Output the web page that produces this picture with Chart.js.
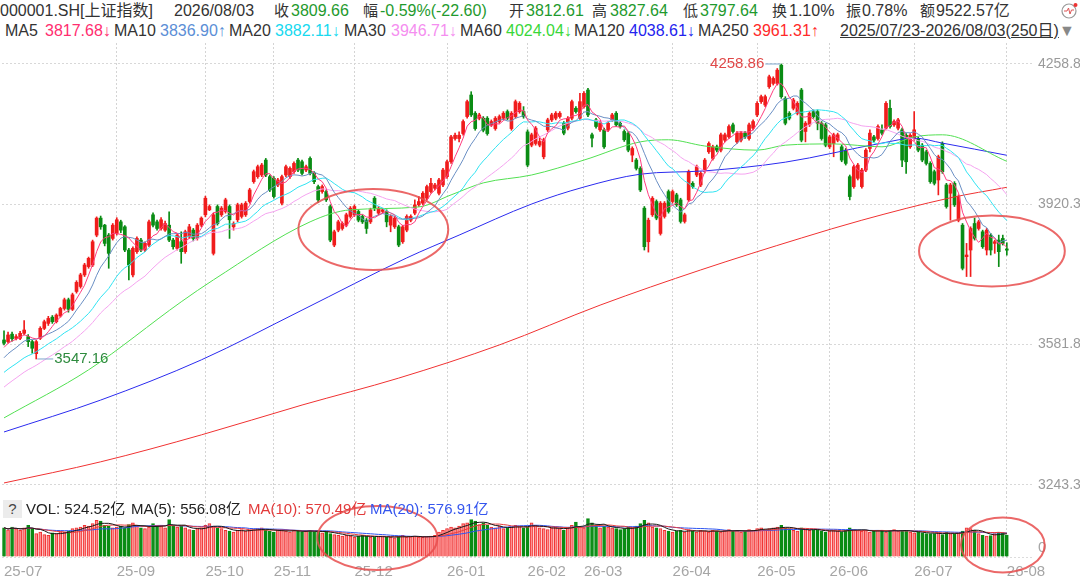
<!DOCTYPE html>
<html>
<head>
<meta charset="utf-8">
<script src="https://cdn.jsdelivr.net/npm/chart.js@4.4.0/dist/chart.umd.min.js"></script>
<style>
  body { margin:0; background:#fff; width:1080px; height:581px; overflow:hidden; position:relative;
         font-family:"Liberation Sans","Noto Sans CJK SC",sans-serif; }
  .h { position:absolute; white-space:nowrap; font-size:16px; line-height:20px; color:#333; z-index:2; }
  .c { font-size:15px; }
  .g { color:#1f9a2e; }
  .v { position:absolute; white-space:nowrap; font-size:15px; line-height:20px; color:#222; z-index:2; }
  #mainBox { position:absolute; left:0; top:43px; width:1080px; height:449px; }
  #volBox { position:absolute; left:0; top:492px; width:1080px; height:89px; }
</style>
</head>
<body>
<!-- header row 1 -->
<span class="h" style="left:0;top:1px">000001.SH[上证指数]</span>
<span class="h" style="left:174px;top:1px">2026/08/03</span>
<span class="h c" style="left:274px;top:1px">收</span><span class="h g" style="left:291px;top:1px">3809.66</span>
<span class="h c" style="left:363px;top:1px">幅</span><span class="h g" style="left:380px;top:1px">-0.59%(-22.60)</span>
<span class="h c" style="left:509px;top:1px">开</span><span class="h g" style="left:526px;top:1px">3812.61</span>
<span class="h c" style="left:592px;top:1px">高</span><span class="h g" style="left:610px;top:1px">3827.64</span>
<span class="h c" style="left:683px;top:1px">低</span><span class="h g" style="left:700px;top:1px">3797.64</span>
<span class="h c" style="left:772px;top:1px">换</span><span class="h" style="left:789px;top:1px">1.10%</span>
<span class="h c" style="left:846px;top:1px">振</span><span class="h" style="left:862px;top:1px">0.78%</span>
<span class="h c" style="left:920px;top:1px">额</span><span class="h" style="left:936px;top:1px">9522.57亿</span>
<svg style="position:absolute;left:1061px;top:2px" width="18" height="18">
  <circle cx="8" cy="9" r="7" fill="none" stroke="#999" stroke-width="1.2"/>
  <polyline points="3,9 6,9 7.5,6 9,12 10.5,8 13,8" fill="none" stroke="#d55" stroke-width="1"/>
  <circle cx="14.5" cy="3" r="2" fill="#e33"/>
</svg>
<!-- header row 2 -->
<span class="h" style="left:5px;top:21px">MA5</span><span class="h" style="left:45px;top:21px;color:#ff2d6f">3817.68↓</span>
<span class="h" style="left:114px;top:21px">MA10</span><span class="h" style="left:160px;top:21px;color:#5b8ed6">3836.90↑</span>
<span class="h" style="left:229px;top:21px">MA20</span><span class="h" style="left:275px;top:21px;color:#17d9ef">3882.11↓</span>
<span class="h" style="left:344px;top:21px">MA30</span><span class="h" style="left:391px;top:21px;color:#f58ef0">3946.71↓</span>
<span class="h" style="left:460px;top:21px">MA60</span><span class="h" style="left:506px;top:21px;color:#39d739">4024.04↓</span>
<span class="h" style="left:574px;top:21px">MA120</span><span class="h" style="left:629px;top:21px;color:#2323ee">4038.61↓</span>
<span class="h" style="left:698px;top:21px">MA250</span><span class="h" style="left:753px;top:21px;color:#ff2a2a">3961.31↑</span>
<span class="h" style="left:840px;top:21px;text-decoration:underline">2025/07/23-2026/08/03(250日)</span>
<span class="h" style="left:1059px;top:21px;color:#888">▼</span>
<!-- volume header -->
<span class="v" style="left:3px;top:500px;width:19px;height:18px;line-height:18px;text-align:center;background:#ececec;color:#444">?</span>
<span class="v" style="left:26px;top:499px">VOL: 524.52亿</span>
<span class="v" style="left:131px;top:499px">MA(5): 556.08亿</span>
<span class="v" style="left:248px;top:499px;color:#e23b3b">MA(10): 570.49亿</span>
<span class="v" style="left:370px;top:499px;color:#3556ee">MA(20): 576.91亿</span>

<div id="mainBox"><canvas id="main"></canvas></div>
<div id="volBox"><canvas id="vol"></canvas></div>

<script>
// ---- data (2025/07/23 - 2026/08/03, 250 trading days) ----
const open = [
  3593,3589,3607,3597,3597,3609,3601,3589,3560,3597,
  3621,3633,3648,3637,3651,3669,3690,3667,3710,3722,
  3750,3770,3774,3846,3887,3870,3846,3838,3850,3878,
  3866,3810,3750,3806,3834,3810,3822,3895,3878,3862,
  3858,3870,3834,3814,3830,3806,3842,3858,3838,3870,
  3895,3907,3802,3915,3895,3903,3915,3866,3883,3891,
  3895,3927,3975,3987,3991,4027,3987,3983,3967,3923,
  3991,3987,3999,4027,4023,4003,4031,3995,3963,3951,
  3951,3915,3822,3858,3862,3870,3891,3895,3903,3891,
  3882,3878,3935,3899,3903,3903,3870,3866,3866,3830,
  3858,3882,3899,3919,3923,3935,3951,3959,3947,3967,
  3987,4023,4079,4079,4091,4132,4184,4140,4128,4128,
  4128,4112,4103,4120,4128,4144,4103,4132,4144,4144,
  4095,4063,4067,4063,4035,4100,4124,4128,4132,4116,
  4104,4128,4152,4128,4156,4196,4088,4124,4100,4100,
  4100,4124,4140,4116,4096,4092,4039,4027,4007,3911,
  3830,3895,3927,3850,3891,3951,3927,3943,3931,3879,
  3931,3971,3991,3967,4000,4047,4031,4059,4051,4075,
  4083,4112,4071,4075,4092,4079,4104,4136,4168,4160,
  4204,4212,4212,4256,4176,4140,4152,4140,4196,4096,
  4112,4144,4144,4116,4112,4059,4067,4075,4059,4051,
  3987,3963,3983,3963,4003,4055,4083,4079,4100,4104,
  4152,4112,4104,4100,4087,4059,4079,4079,4063,4047,
  4019,3999,3979,4067,3967,3947,3971,3882,3870,3794,
  3810,3874,3862,3854,3810,3846,3826,3834,3838,3812.61
];
const high = [
  3615,3612,3612,3606,3614,3640,3606,3592,3592,3625,
  3641,3650,3652,3656,3672,3694,3694,3706,3736,3754,
  3778,3793,3834,3890,3892,3872,3850,3874,3888,3882,
  3869,3814,3818,3842,3838,3830,3882,3900,3882,3888,
  3880,3902,3838,3850,3854,3858,3872,3862,3874,3890,
  3940,3919,3899,3919,3915,3935,3919,3878,3923,3923,
  3927,3959,4003,4015,4019,4031,3991,3987,3983,3991,
  4015,4011,4023,4031,4027,4015,4035,3999,3967,3967,
  3955,3919,3858,3882,3878,3899,3915,3919,3907,3895,
  3886,3911,3939,3915,3911,3907,3895,3891,3870,3870,
  3895,3895,3931,3939,3951,3967,3983,3971,3983,4007,
  4027,4087,4092,4095,4124,4172,4192,4144,4140,4132,
  4132,4124,4132,4136,4144,4148,4144,4172,4168,4156,
  4100,4092,4108,4080,4080,4128,4140,4144,4144,4120,
  4132,4172,4156,4188,4192,4200,4092,4128,4120,4104,
  4120,4140,4144,4120,4100,4096,4059,4031,4011,3915,
  3887,3939,3931,3927,3927,3955,3955,3947,3935,3899,
  4003,3975,4015,3999,4031,4071,4063,4063,4092,4092,
  4112,4116,4096,4096,4096,4116,4124,4168,4184,4184,
  4232,4228,4248,4258.86,4180,4144,4176,4168,4200,4120,
  4144,4148,4148,4120,4116,4087,4092,4092,4063,4055,
  3991,4015,4019,4007,4055,4100,4087,4112,4112,4168,
  4172,4124,4128,4104,4091,4091,4144,4083,4067,4051,
  4023,4003,4039,4071,3971,3971,3975,3943,3874,3826,
  3866,3887,3882,3858,3862,3850,3834,3846,3846,3827.64
];
const low = [
  3581,3585,3590,3593,3594,3605,3577,3561,3547.16,3594,
  3618,3628,3633,3634,3648,3665,3660,3664,3706,3718,
  3746,3766,3770,3842,3860,3820,3766,3834,3846,3852,
  3806,3738,3745,3802,3806,3806,3818,3866,3858,3858,
  3855,3830,3812,3810,3778,3802,3838,3832,3834,3866,
  3890,3905,3798,3870,3891,3899,3838,3858,3878,3887,
  3891,3923,3971,3983,3987,3987,3951,3935,3963,3919,
  3987,3983,3995,3999,3991,3999,3991,3970,3925,3947,
  3927,3830,3818,3854,3858,3866,3887,3891,3878,3874,
  3850,3874,3905,3895,3899,3866,3854,3862,3818,3826,
  3854,3878,3895,3915,3919,3931,3947,3955,3943,3963,
  3983,4019,4075,4071,4087,4128,4132,4099,4124,4095,
  4087,4108,4099,4116,4124,4124,4099,4128,4140,4128,
  4011,4059,4063,4059,4030,4096,4120,4124,4128,4088,
  4100,4124,4140,4124,4152,4132,4059,4104,4096,4055,
  4096,4120,4108,4104,4072,4047,4023,4003,3951,3810,
  3805,3891,3883,3846,3887,3899,3923,3915,3875,3875,
  3927,3959,3987,3963,3996,4043,4027,4047,4047,4071,
  4079,4092,4067,4071,4079,4075,4100,4132,4164,4156,
  4200,4208,4208,4176,4112,4124,4148,4136,4071,4071,
  4108,4128,4100,4075,4059,4055,4035,4071,4023,4015,
  3931,3959,3979,3959,3999,4047,4071,4075,4088,4100,
  4104,4108,4100,4011,3995,4055,4075,4047,4023,4015,
  3971,3967,3943,3995,3911,3882,3915,3878,3762,3746,
  3746,3834,3858,3814,3798,3798,3802,3770,3822,3797.64
];
const close = [
  3585,3605,3596,3601,3609,3617,3589,3573,3589,3621,
  3637,3645,3637,3653,3669,3690,3667,3702,3732,3750,
  3774,3790,3830,3887,3866,3826,3802,3870,3883,3858,
  3810,3774,3814,3838,3810,3826,3878,3870,3862,3883,
  3874,3834,3818,3846,3806,3854,3866,3838,3870,3887,
  3935,3915,3895,3874,3911,3931,3883,3874,3919,3919,
  3923,3955,3999,4011,4015,3991,3955,3939,3979,3987,
  4011,4007,4019,4003,3995,4011,3995,3975,3931,3963,
  3931,3834,3854,3878,3874,3895,3911,3915,3882,3878,
  3862,3907,3911,3911,3907,3878,3891,3887,3822,3866,
  3891,3891,3919,3927,3947,3963,3971,3967,3979,4003,
  4023,4083,4087,4087,4120,4168,4136,4103,4136,4099,
  4091,4120,4128,4132,4140,4128,4140,4168,4164,4132,
  4015,4088,4104,4072,4076,4124,4136,4140,4140,4092,
  4128,4168,4144,4168,4188,4136,4080,4108,4116,4059,
  4116,4136,4112,4108,4076,4051,4055,4007,3955,3818,
  3882,3935,3887,3923,3923,3903,3951,3919,3879,3895,
  3999,3963,4011,3995,4027,4067,4059,4051,4088,4088,
  4108,4096,4092,4092,4083,4112,4120,4164,4180,4180,
  4228,4224,4244,4180,4116,4128,4172,4164,4075,4116,
  4140,4132,4116,4079,4063,4083,4088,4088,4027,4019,
  3939,4011,4015,4003,4051,4092,4075,4108,4092,4164,
  4108,4120,4124,4027,4023,4087,4100,4051,4027,4019,
  3975,3971,4035,3999,3915,3967,3919,3939,3766,3798,
  3862,3838,3878,3818,3858,3810,3830,3806,3826,3809.66
];
// closes of the 29 sessions before the window (only feed the MA5-MA30 lines)
const priorClose = [
  3372,3380,3391,3398,3405,3410,3418,3425,3435,3446,
  3452,3460,3471,3466,3478,3485,3490,3482,3500,3512,
  3508,3520,3531,3527,3540,3555,3568,3580,3587
];
// volume, 亿
const volume = [
  700,650,720,680,640,700,760,690,560,600,
  540,520,580,560,610,590,620,680,700,720,
  760,740,800,880,860,760,740,700,720,740,
  700,780,820,760,700,680,720,800,760,740,
  700,900,760,720,740,700,660,640,680,700,
  760,800,740,700,680,640,620,600,640,660,
  620,640,660,680,700,640,620,600,640,660,
  620,600,640,620,600,620,640,600,620,580,
  620,560,540,520,500,520,500,480,500,520,
  500,480,470,490,500,480,470,460,500,520,
  480,490,500,480,470,490,500,520,600,640,
  680,720,700,740,800,820,900,860,780,820,
  760,720,700,740,680,700,720,760,740,700,
  720,820,760,700,680,660,700,720,680,640,
  700,760,840,720,700,920,820,760,700,740,
  720,700,680,660,680,720,700,740,800,880,
  820,720,700,680,640,620,600,620,640,600,
  660,620,600,640,620,600,640,620,600,640,
  660,620,640,600,620,660,640,680,700,660,
  680,700,720,760,700,680,640,620,700,660,
  640,660,640,620,600,620,640,620,600,640,
  700,660,640,620,640,600,620,640,620,600,
  640,660,620,640,620,600,580,600,580,560,
  560,560,580,540,600,560,560,580,620,700,
  680,640,560,520,500,516,560,600,580,524.52
];
// slower averages at a few sessions
const ma60Days = [0,21,44,52,76,86,103,111,119,131,144,158,165,174,187,194,206,218,226,233,249];
const ma60Vals = [3405,3521,3685,3738,3878,3907,3914,3943,3972,3991,4027,4071,4076,4061,4051,4063,4066,4059,4083,4088,4024.04];
const ma120Days = [0,24,49,74,100,113,131,144,158,174,194,218,226,233,249];
const ma120Vals = [3371,3448,3545,3665,3791,3846,3921,3962,3993,4001,4022,4068,4080,4068,4038.61];
const ma250Days = [0,24,49,74,98,123,148,173,198,213,235,249];
const ma250Vals = [3248,3299,3364,3436,3501,3581,3677,3762,3839,3882,3936,3961.31];

const monthIdx = [0,28,50,67,87,110,130,144,166,187,205,226,249];
const monthLabels = ['25-07','25-09','25-10','25-11','25-12','26-01','26-02','26-03','26-04','26-05','26-06','26-07','26-08'];
const priceTicks = [4258.86, 3920.34, 3581.82, 3243.30];

const N_SLOTS = 256;
const slots = Array.from({length: N_SLOTS}, (_, i) => i);
const up = close.map((c, i) => c >= open[i]);
const RED = '#f01c1c', GREEN = '#0a8c14';
const FONT = '"Liberation Sans","Noto Sans CJK SC",sans-serif';

function movingAvg(src, n, lead) {
  const all = lead.concat(src);
  return src.map((_, i) => {
    const end = i + lead.length + 1;
    const start = Math.max(0, end - n);
    let s = 0;
    for (let k = start; k < end; k++) s += all[k];
    return s / (end - start);
  });
}
function sparse(days, vals) {
  const out = new Array(N_SLOTS).fill(null);
  days.forEach((d, k) => { out[d] = vals[k]; });
  return out;
}
function lineDs(data, color, smooth) {
  return {
    type: 'line', data: data, borderColor: color, borderWidth: 1, pointRadius: 0,
    spanGaps: true, order: 0, tension: 0,
    cubicInterpolationMode: smooth ? 'monotone' : 'default'
  };
}
const gridColor = c => (c.index > 0 && monthIdx.includes(c.index)) ? '#d4d4d4' : 'rgba(0,0,0,0)';
// no extra room for labels sticking out at the ends of an axis
function noPad(s) { s.paddingTop = 0; s.paddingBottom = 0; s.paddingLeft = 0; s.paddingRight = 0; }

function ellipse(chart, cx, cy, rxIdx, ryVal) {
  const {ctx, scales: {x, y}} = chart;
  const px = x.getPixelForValue(cx), py = y.getPixelForValue(cy);
  const rx = x.getPixelForValue(cx + rxIdx) - px;
  const ry = y.getPixelForValue(cy - ryVal) - py;
  ctx.beginPath();
  ctx.ellipse(px, py, rx, ry, 0, 0, Math.PI * 2);
  ctx.stroke();
}

const markPlugin = {
  id: 'marks',
  afterDraw(chart) {
    const {ctx, scales: {x, y}} = chart;
    ctx.save();
    ctx.font = '15px ' + FONT;
    ctx.textBaseline = 'middle';
    ctx.lineWidth = 1;
    // highest point
    const hi = high.indexOf(Math.max(...high));
    let px = x.getPixelForValue(hi), py = y.getPixelForValue(high[hi]);
    ctx.strokeStyle = '#7ea6cc';
    ctx.beginPath(); ctx.moveTo(px - 1, py); ctx.lineTo(px - 16, py); ctx.stroke();
    ctx.fillStyle = '#e04848'; ctx.textAlign = 'right';
    ctx.fillText(high[hi].toFixed(2), px - 17, py);
    // lowest point
    const lo = low.indexOf(Math.min(...low));
    px = x.getPixelForValue(lo); py = y.getPixelForValue(low[lo]);
    ctx.beginPath(); ctx.moveTo(px + 1, py); ctx.lineTo(px + 17, py); ctx.stroke();
    ctx.fillStyle = '#2e8b3e'; ctx.textAlign = 'left';
    ctx.fillText(low[lo].toFixed(2), px + 18, py);
    // hand drawn circles
    ctx.strokeStyle = 'rgba(232,78,78,0.85)';
    ctx.lineWidth = 2;
    ellipse(chart, 91.7, 3859.5, 18.6, 97.7);
    ellipse(chart, 245.3, 3807.7, 18.1, 85.6);
    ctx.restore();
  }
};

new Chart(document.getElementById('main'), {
  data: {
    labels: slots,
    datasets: [
      { type: 'bar', data: low.map((l, i) => [l, high[i]]), backgroundColor: up.map(u => u ? RED : GREEN),
        barThickness: 1, grouped: false, order: 2 },
      { type: 'bar', data: open.map((o, i) => [o, close[i]]), backgroundColor: up.map(u => u ? RED : GREEN),
        barThickness: 3, grouped: false, minBarLength: 1, order: 1 },
      lineDs(movingAvg(close, 5, priorClose), '#ff3d7f', false),
      lineDs(movingAvg(close, 10, priorClose), '#6a8fc4', false),
      lineDs(movingAvg(close, 20, priorClose), '#2fe3f2', false),
      lineDs(movingAvg(close, 30, priorClose), '#f5a3f0', false),
      lineDs(sparse(ma60Days, ma60Vals), '#52e052', true),
      lineDs(sparse(ma120Days, ma120Vals), '#2b2bef', true),
      lineDs(sparse(ma250Days, ma250Vals), '#f03232', true)
    ]
  },
  options: {
    responsive: true, maintainAspectRatio: false, animation: false,
    layout: { padding: { left: 2, right: 0, top: 0, bottom: 0 } },
    plugins: { legend: { display: false }, tooltip: { enabled: false } },
    scales: {
      x: {
        type: 'category', offset: true,
        grid: { offset: false, drawTicks: false, color: gridColor },
        border: { display: false, dash: [2, 2] },
        ticks: { display: false, autoSkip: false },
        afterFit: s => { s.height = 0; noPad(s); }
      },
      y: {
        position: 'right', min: 3226.2, max: 4309.5,
        afterBuildTicks: s => { s.ticks = priceTicks.map(v => ({ value: v })); },
        afterFit: s => { s.width = 47; noPad(s); },
        ticks: { padding: 5, color: '#9a9a9a', font: { size: 14, family: FONT }, callback: v => v.toFixed(2) },
        grid: { drawTicks: false, color: '#d8d8d8' },
        border: { display: false, dash: [2, 2] }
      }
    }
  },
  plugins: [markPlugin]
});

const volMarks = {
  id: 'volMarks',
  afterDraw(chart) {
    const ctx = chart.ctx;
    ctx.save();
    ctx.strokeStyle = 'rgba(232,78,78,0.85)';
    ctx.lineWidth = 2;
    ellipse(chart, 92.7, 456, 14.9, 768);
    ellipse(chart, 248, 288, 10.4, 660);
    ctx.restore();
  }
};

new Chart(document.getElementById('vol'), {
  data: {
    labels: slots,
    datasets: [
      { type: 'bar', data: volume,
        backgroundColor: up.map(u => u ? 'rgba(255,150,150,0.85)' : GREEN),
        borderColor: up.map(u => u ? '#f03030' : GREEN),
        borderWidth: 1, barThickness: 3, order: 1 },
      lineDs(movingAvg(volume, 5, []), '#1a1a1a', false),
      lineDs(movingAvg(volume, 10, []), '#e83c3c', false),
      lineDs(movingAvg(volume, 20, []), '#2f55f0', false)
    ]
  },
  options: {
    responsive: true, maintainAspectRatio: false, animation: false,
    layout: { padding: { left: 2, right: 0, top: 0, bottom: 0 } },
    plugins: { legend: { display: false }, tooltip: { enabled: false } },
    scales: {
      x: {
        type: 'category', offset: true,
        grid: { offset: false, drawTicks: false, color: gridColor },
        border: { display: false, dash: [2, 2] },
        ticks: {
          autoSkip: false, maxRotation: 0, minRotation: 0, align: 'start', padding: 6,
          color: '#a6a6a6', font: { size: 15, family: FONT },
          callback: (v, i) => { const k = monthIdx.indexOf(i); return k >= 0 ? monthLabels[k] : ''; }
        },
        afterFit: s => { s.height = 24; noPad(s); }
      },
      y: {
        position: 'right', min: 0, max: 1560,
        afterBuildTicks: s => { s.ticks = [{ value: 0 }]; },
        afterFit: s => { s.width = 47; noPad(s); },
        ticks: { padding: 5, labelOffset: -9, color: '#a6a6a6', font: { size: 15, family: FONT } },
        grid: { drawTicks: false, color: '#dcdcdc' },
        border: { display: false, dash: [2, 2] }
      }
    }
  },
  plugins: [volMarks]
});
</script>
</body>
</html>
